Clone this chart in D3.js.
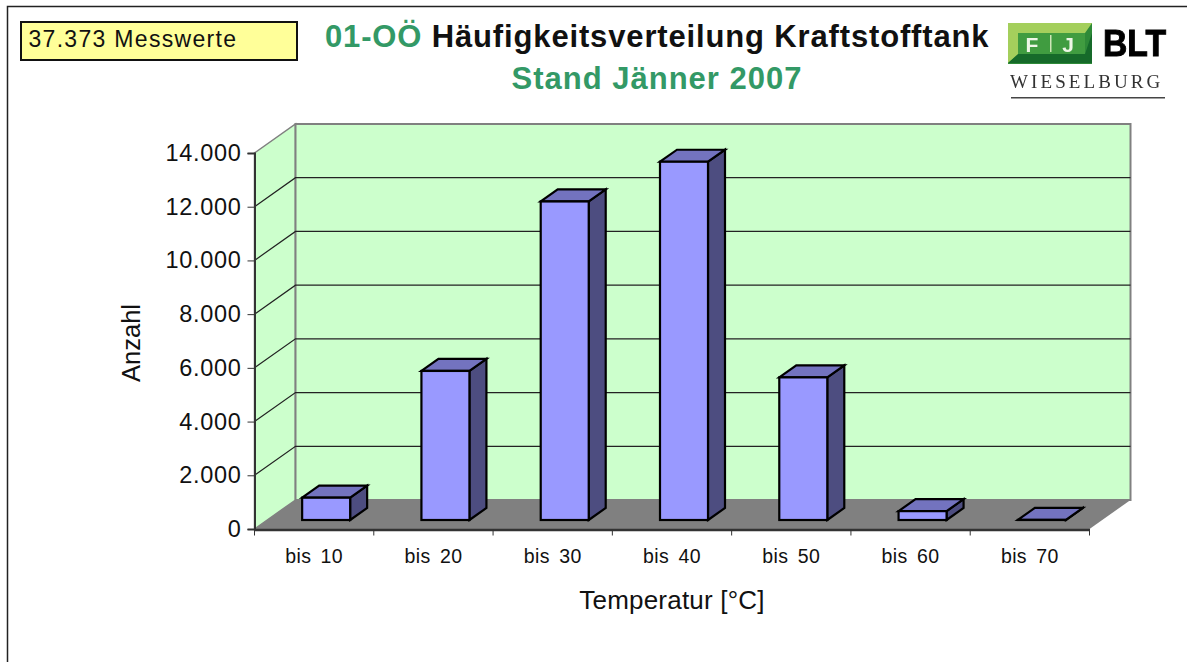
<!DOCTYPE html>
<html>
<head>
<meta charset="utf-8">
<script src="https://cdn.jsdelivr.net/npm/d3@7"></script>
<style>
  html, body { margin: 0; padding: 0; background: #fff; }
  svg { display: block; }
  text { font-family: "Liberation Sans", Arial, sans-serif; }
</style>
</head>
<body>
<script>
const width = 1187;
const height = 662;

const categories = ["bis 10", "bis 20", "bis 30", "bis 40", "bis 50", "bis 60", "bis 70"];
const counts = [830, 5550, 11860, 13340, 5310, 330, 3];
const yTicks = [0, 2000, 4000, 6000, 8000, 10000, 12000, 14000];

const x0 = 254.5, x1 = 1089.5, y0 = 529, y1 = 153;
const wallDx = 41, wallDy = -29;   // depth of the 3d box
const barDx = 17, barDy = -12;     // depth of one bar
const midDx = 12, midDy = -9;      // bar sits in the middle of the floor

const x = d3.scaleBand().domain(categories).range([x0, x1]).paddingInner(0).paddingOuter(0);
const y = d3.scaleLinear().domain([0, 14000]).range([y0, y1]);
const barWidth = 48;

const svg = d3.select(document.body).append("svg")
    .attr("width", width)
    .attr("height", height);

svg.append("rect").attr("width", width).attr("height", height).attr("fill", "#fff");

const defs = svg.append("defs");
defs.append("filter").attr("id", "soft")
    .append("feGaussianBlur").attr("stdDeviation", 0.6);

// outer frame, only top and left are in the picture
svg.append("path")
    .attr("d", `M7.5,${height}V6.5H${width}`)
    .attr("fill", "none")
    .attr("stroke", "#222")
    .attr("stroke-width", 1.5);

// note box
svg.append("rect")
    .attr("x", 21).attr("y", 22).attr("width", 276).attr("height", 38)
    .attr("fill", "#ffff99").attr("stroke", "#111").attr("stroke-width", 2);
svg.append("text")
    .attr("x", 28.5).attr("y", 47)
    .attr("font-size", 23)
    .attr("fill", "#111")
    .style("letter-spacing", "1.3px")
    .text("37.373 Messwerte");

// title
const title = svg.append("text")
    .attr("x", 325).attr("y", 47)
    .attr("font-size", 31).attr("font-weight", "bold")
    .style("letter-spacing", "0.85px");
title.append("tspan").attr("fill", "#339966").text("01-OÖ ");
title.append("tspan").attr("fill", "#111").text("Häufigkeitsverteilung Kraftstofftank");
svg.append("text")
    .attr("x", 657).attr("y", 88.5)
    .attr("text-anchor", "middle")
    .attr("font-size", 31).attr("font-weight", "bold")
    .attr("fill", "#339966")
    .style("letter-spacing", "1px")
    .text("Stand Jänner 2007");

// logo
const logo = svg.append("g").attr("filter", "url(#soft)");
logo.append("rect").attr("x", 1008).attr("y", 23).attr("width", 84).attr("height", 41).attr("fill", "#2f8a37");
logo.append("path").attr("d", "M1008,23H1092L1085,33H1018V55L1008,63Z").attr("fill", "#a4cf5c");
logo.append("path").attr("d", "M1008,63L1018,54H1085L1092,33V63Z").attr("fill", "#136b2c");
logo.append("rect").attr("x", 1018).attr("y", 33).attr("width", 67).attr("height", 21).attr("fill", "#3f9c41");
logo.append("text").attr("x", 1032).attr("y", 52).attr("text-anchor", "middle")
    .attr("font-size", 21).attr("font-weight", "bold").attr("fill", "#eef6e6").text("F");
logo.append("rect").attr("x", 1050).attr("y", 35).attr("width", 1.5).attr("height", 17).attr("fill", "#cfe6b8");
logo.append("text").attr("x", 1068).attr("y", 52).attr("text-anchor", "middle")
    .attr("font-size", 21).attr("font-weight", "bold").attr("fill", "#eef6e6").text("J");
logo.append("text").attr("x", 1103).attr("y", 56)
    .attr("font-size", 36).attr("font-weight", "bold").attr("fill", "#000")
    .attr("stroke", "#000").attr("stroke-width", 1)
    .attr("textLength", 63).attr("lengthAdjust", "spacingAndGlyphs")
    .text("BLT");
logo.append("text").attr("x", 1010).attr("y", 88)
    .attr("font-size", 19).attr("fill", "#333")
    .style("font-family", "'Liberation Serif', serif")
    .style("letter-spacing", "3.1px")
    .text("WIESELBURG");
logo.append("rect").attr("x", 1011).attr("y", 97).attr("width", 154).attr("height", 1.5).attr("fill", "#444");

const plot = svg.append("g");

// walls and floor
plot.append("path")
    .attr("d", `M${x0},${y0}L${x0 + wallDx},${y0 + wallDy}V${y1 + wallDy}L${x0},${y1}Z`)
    .attr("fill", "#ccffcc").attr("stroke", "#808080").attr("stroke-width", 1.5);
plot.append("rect")
    .attr("x", x0 + wallDx).attr("y", y1 + wallDy)
    .attr("width", x1 - x0).attr("height", y0 - y1)
    .attr("fill", "#ccffcc").attr("stroke", "#808080").attr("stroke-width", 2);
plot.append("path")
    .attr("d", `M${x0},${y0}H${x1}L${x1 + wallDx},${y0 + wallDy}H${x0 + wallDx}Z`)
    .attr("fill", "#808080");

// grid lines run along the side wall and the back wall
plot.append("g")
    .selectAll("path")
    .data(yTicks.filter(d => d > 0 && d < 14000))
    .join("path")
    .attr("d", d => `M${x0},${y(d)}L${x0 + wallDx},${y(d) + wallDy}H${x1 + wallDx}`)
    .attr("fill", "none")
    .attr("stroke", "#222")
    .attr("stroke-width", 1.2);

// axes
const yAxis = d3.axisLeft(y)
    .tickValues(yTicks)
    .tickSize(7)
    .tickPadding(6)
    .tickFormat(d => d3.format(",")(d).replace(/,/g, "."));
const yG = plot.append("g").attr("transform", `translate(${x0},0)`).call(yAxis);
yG.select(".domain").attr("stroke", "#333").attr("stroke-width", 2);
yG.selectAll(".tick line").attr("stroke", "#333");
yG.selectAll("text")
    .attr("font-size", 23.5).attr("fill", "#111")
    .attr("font-family", "Liberation Sans")
    .style("letter-spacing", "0.7px");

const xAxis = d3.axisBottom(x).tickSize(0).tickPadding(18);
const xG = plot.append("g").attr("transform", `translate(0,${y0 + 0.5})`).call(xAxis);
xG.select(".domain").attr("stroke", "#333").attr("stroke-width", 2.5);
xG.selectAll("text")
    .attr("font-size", 19.5).attr("dy", "0.8em").attr("fill", "#111")
    .attr("font-family", "Liberation Sans")
    .style("word-spacing", "3.5px")
    .style("letter-spacing", "0.4px");
xG.selectAll(".sep")
    .data(d3.range(categories.length + 1))
    .join("line")
    .attr("class", "sep")
    .attr("x1", i => x0 + i * x.step()).attr("x2", i => x0 + i * x.step())
    .attr("y1", 0).attr("y2", 6)
    .attr("stroke", "#333");

// bars
const bars = plot.append("g")
    .selectAll("g")
    .data(categories.map((c, i) => ({ c, v: counts[i] })))
    .join("g")
    .attr("stroke", "#000")
    .attr("stroke-width", 2.2)
    .attr("stroke-linejoin", "miter");

const barLeft = d => x(d.c) + (x.bandwidth() - barWidth) / 2 + midDx;
const base = y0 + midDy;
const barTop = d => base - (y0 - y(d.v));

bars.append("path").attr("fill", "#4d4d80")
    .attr("d", d => {
        const r = barLeft(d) + barWidth;
        return `M${r},${base}L${r + barDx},${base + barDy}V${barTop(d) + barDy}L${r},${barTop(d)}Z`;
    });
bars.append("path").attr("fill", "#7373bf")
    .attr("d", d => {
        const l = barLeft(d);
        return `M${l},${barTop(d)}L${l + barDx},${barTop(d) + barDy}H${l + barWidth + barDx}L${l + barWidth},${barTop(d)}Z`;
    });
bars.append("rect").attr("fill", "#9999ff")
    .attr("x", barLeft)
    .attr("y", barTop)
    .attr("width", barWidth)
    .attr("height", d => base - barTop(d));

// axis titles
svg.append("text")
    .attr("x", 672).attr("y", 609)
    .attr("text-anchor", "middle")
    .attr("font-size", 26).attr("fill", "#111")
    .style("letter-spacing", "0.2px")
    .text("Temperatur [°C]");
svg.append("text")
    .attr("transform", "translate(140,343) rotate(-90)")
    .attr("text-anchor", "middle")
    .attr("font-size", 25.5).attr("fill", "#111")
    .text("Anzahl");
</script>
</body>
</html>
